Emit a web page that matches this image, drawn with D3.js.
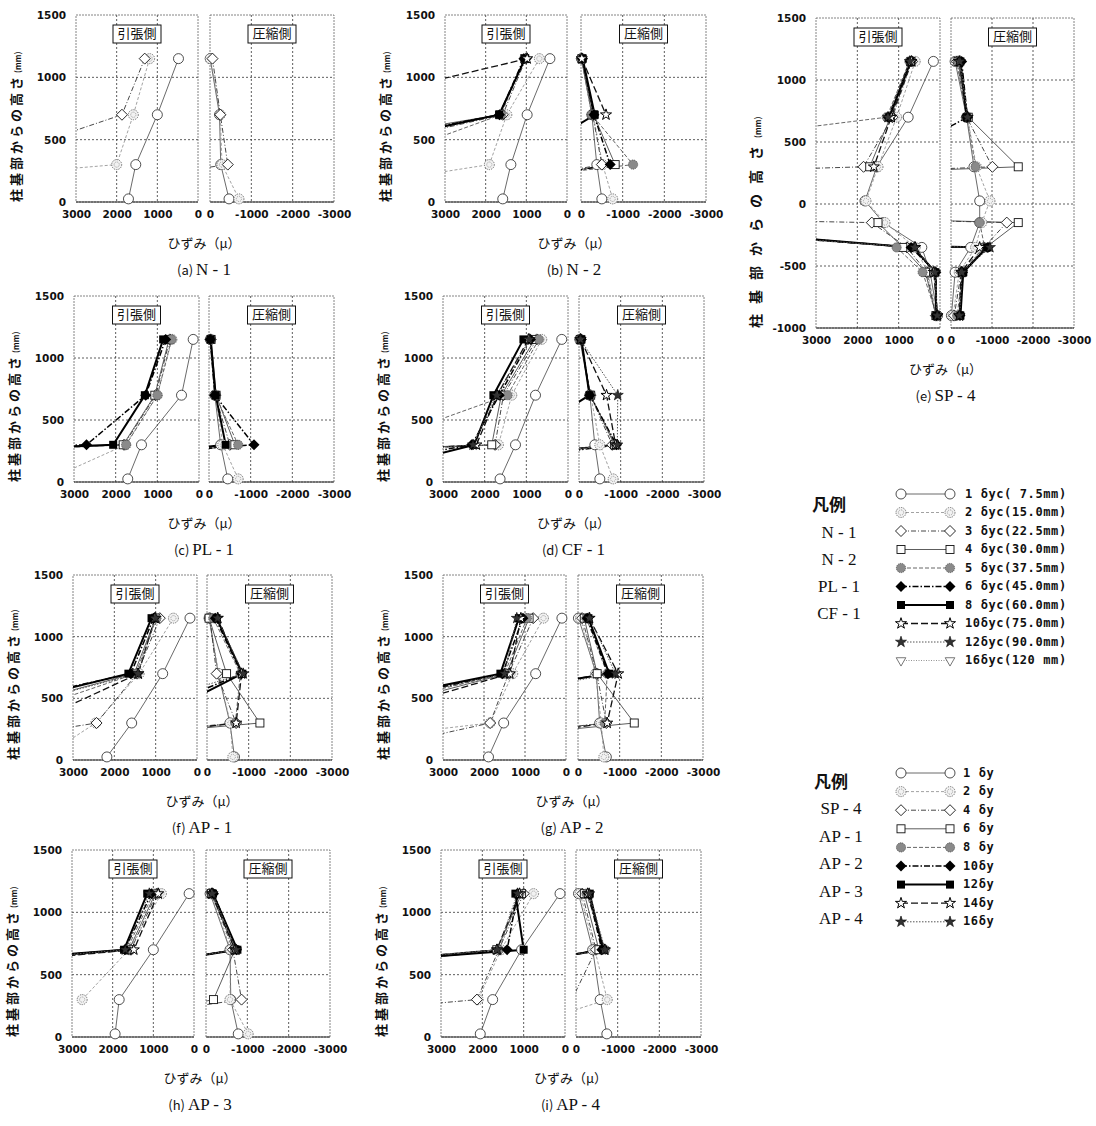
<!DOCTYPE html>
<html>
<head>
<meta charset="utf-8">
<script src="https://cdn.jsdelivr.net/npm/d3@7"></script>
<style>
  body { margin: 0; background: #fff; }
  text { fill: #111; }
</style>
</head>
<body>
<svg id="fig" width="1096" height="1126"></svg>
<script>
// gauge heights from column base (mm)
const hStd = [1150, 700, 300, 25];
const hSP = [1150, 700, 300, 25, -150, -350, -550, -900];

// strain (μ); row = load step (legend order), column = gauge height
// null = no reading, very large values = gauge went off the plotted range
const tenA = [
  [480, 1000, 1530, 1710],
  [1190, 1590, 2000, 12000],
  [1310, 1870, 5500, null]
];
const cmpA = [
  [-5, -230, -260, -460],
  [-10, -250, -290, -700],
  [-60, -250, -430, 5500]
];

const tenB = [
  [420, 980, 1380, 1580],
  [680, 1480, 1910, 7300],
  [1010, 1580, 7000, null],
  [1040, 1650, 9000, null],
  [1050, 1620, 5000, null],
  [1060, 1660, 8000, null],
  [1030, 1670, 7500, null],
  [980, 6800, null, null]
];
const cmpB = [
  [-10, -260, -380, -500],
  [-20, -290, -520, -760],
  [-20, -280, -500, 4000],
  [-20, -300, -820, 5000],
  [-10, -260, -1250, 6000],
  [-30, -310, -700, 4000],
  [-40, -330, 1640, null],
  [-20, -600, null, null]
];

const tenC = [
  [140, 420, 1380, 1710],
  [650, 1000, 1760, 3580],
  [700, 1040, 1800, 24000],
  [720, 1060, 1820, 20000],
  [660, 1000, 1750, 20000],
  [800, 1280, 2700, 30000],
  [860, 1300, 2060, 25000]
];
const cmpC = [
  [-30, -140, -280, -450],
  [-40, -160, -330, -700],
  [-40, -150, -500, 8000],
  [-50, -170, -620, 5000],
  [-40, -150, -700, 6000],
  [-30, -140, -1080, 10000],
  [-40, -160, -400, 8000]
];

const tenD = [
  [150, 780, 1260, 1630],
  [630, 1350, 1670, 20000],
  [750, 1550, 1750, 20000],
  [800, 1600, 1830, 25000],
  [700, 1450, 4770, null],
  [900, 1650, 2310, 7000],
  [1070, 1790, 2250, 5500],
  [950, 1700, 2200, 15000],
  [920, 1720, 2280, 14000]
];
const cmpD = [
  [-20, -260, -380, -500],
  [-30, -280, -500, -820],
  [-40, -270, -800, 8000],
  [-30, -280, -850, 8000],
  [-40, -270, -880, 6000],
  [-50, -260, -900, 5000],
  [-60, -250, 1640, null],
  [-40, -660, -880, 7000],
  [-30, -930, -920, 6000]
];

const tenE = [
  [160, 770, 1530, 1815, 1370, 440, 240, 60],
  [600, 1050, 1500, 1790, 1330, 600, 300, 80],
  [680, 1150, 1850, 30000, 1650, 800, 320, 100],
  [700, 1200, 1700, null, 1500, 900, 350, 100],
  [740, 1290, 10900, null, null, 1050, 420, 80],
  [720, 1250, null, null, 8000, 700, 100, 80],
  [710, 1230, null, null, 8000, 650, 110, 90],
  [690, 1180, 1600, null, 9000, 600, 150, 60],
  [730, 1260, null, null, 9000, 620, 120, 70]
];
const cmpE = [
  [-100, -380, -560, -700, -700, -480, -100, -10],
  [-130, -400, -620, -950, -750, -600, -200, -50],
  [-150, -380, -1010, 20000, -1360, -800, -250, -80],
  [-170, -420, -1640, 20000, -1640, -850, -280, -200],
  [-180, -390, -600, null, -700, -820, -280, -150],
  [-260, -400, 1850, null, 30000, -900, -280, -220],
  [-230, -380, null, null, 30000, -880, -300, -230],
  [-200, -400, null, null, 30000, -700, -250, -200],
  [-220, -410, null, null, 30000, -950, -270, -210]
];

const tenF = [
  [170, 830, 1580, 2180],
  [570, 1400, 2450, 3700],
  [900, 1450, 2430, 7650],
  [1000, 1520, 6000, null],
  [980, 1480, 5000, null],
  [1050, 1600, 7000, null],
  [1100, 1660, 6500, null],
  [1020, 1420, 4000, null],
  [1000, 1430, 6000, null]
];
const cmpF = [
  [-50, -270, -550, -660],
  [-60, -280, -560, -620],
  [-70, -230, -700, 8000],
  [-50, -470, -1270, 8000],
  [-150, -800, -680, 6000],
  [-200, -830, 2000, null],
  [-230, -850, 1500, null],
  [-260, -830, -700, 6000],
  [-250, -870, 3000, null]
];

const tenG = [
  [100, 740, 1520, 1890],
  [550, 1300, 1850, 9000],
  [800, 1400, 1850, 5600],
  [900, 1450, 6000, null],
  [950, 1500, 6500, null],
  [1050, 1550, 7000, null],
  [1150, 1600, 7500, null],
  [1100, 1370, 5500, null],
  [1200, 1500, 6800, null]
];
const cmpG = [
  [-10, -440, -520, -680],
  [-60, -420, -560, -620],
  [-100, -450, -680, 7000],
  [-150, -460, -1350, 7000],
  [-200, -700, -640, 6000],
  [-220, -720, 6800, null],
  [-250, -750, 7000, null],
  [-270, -965, -700, 5000],
  [-280, -900, 6000, null]
];

const tenH = [
  [120, 1000, 1840, 1940],
  [800, 1600, 2750, null],
  [920, 1550, 15000, null],
  [950, 1600, 16000, null],
  [1000, 1650, 14000, null],
  [1050, 1700, 17000, null],
  [1150, 1720, 18000, null],
  [880, 1480, 15000, null],
  [1100, 1690, 16000, null]
];
const cmpH = [
  [-100, -580, -600, -780],
  [-120, -600, -580, -1020],
  [-150, -650, -860, 5000],
  [-130, -700, -180, 4000],
  [-160, -720, 6000, null],
  [-180, -740, 7000, null],
  [-170, -760, 7000, null],
  [-140, -700, 6500, null],
  [-160, -730, 6800, null]
];

const tenI = [
  [120, 1050, 1750, 2050],
  [760, 1550, 2100, null],
  [1000, 1600, 2130, 11300],
  [1050, 1650, 16000, null],
  [1100, 1600, 15000, null],
  [1150, 1400, 14000, null],
  [1200, 1000, 16700, null],
  [1100, 1650, 15000, null],
  [1150, 1630, 15500, null]
];
const cmpI = [
  [-60, -400, -580, -740],
  [-100, -450, -750, 1830],
  [-150, -480, 100, null],
  [-200, -550, 6000, null],
  [-250, -700, 7000, null],
  [-300, -620, 6500, null],
  [-330, -650, 6800, null],
  [-280, -680, 6500, null],
  [-320, -700, 7000, null]
];

const yTicksStd = [0, 500, 1000, 1500];
const yTicksSP = [-1000, -500, 0, 500, 1000, 1500];
const tenTicks = [3000, 2000, 1000, 0];
const cmpTicks = [0, -1000, -2000, -3000];

const legend1Names = ["N - 1", "N - 2", "PL - 1", "CF - 1"];
const legend1Labels = ["1 δyc( 7.5mm)", "2 δyc(15.0mm)", "3 δyc(22.5mm)", "4 δyc(30.0mm)", "5 δyc(37.5mm)",
  "6 δyc(45.0mm)", "8 δyc(60.0mm)", "10δyc(75.0mm)", "12δyc(90.0mm)", "16δyc(120 mm)"];
const legend2Names = ["SP - 4", "AP - 1", "AP - 2", "AP - 3", "AP - 4"];
const legend2Labels = ["1 δy", "2 δy", "4 δy", "6 δy", "8 δy", "10δy", "12δy", "14δy", "16δy"];

// marker + line style per load step
const styles = [
  { m: "circle",   line: "#444", w: 0.8, dash: null },
  { m: "dcircle",  line: "#8a8a8a", w: 0.8, dash: "3,2" },
  { m: "diamond",  line: "#333", w: 0.9, dash: "5,2,1,2" },
  { m: "square",   line: "#333", w: 0.8, dash: null },
  { m: "gcircle",  line: "#666", w: 1, dash: "4,2" },
  { m: "bdiamond", line: "#000", w: 1.5, dash: "6,2,1.5,2" },
  { m: "bsquare",  line: "#000", w: 2, dash: null },
  { m: "ostar",    line: "#111", w: 1.3, dash: "7,3" },
  { m: "bstar",    line: "#555", w: 1, dash: "1.5,1.5" },
  { m: "tri",      line: "#777", w: 0.8, dash: "1,1.5" }
];

const panels = [
  { label: "(a)", name: "N - 1", ten: tenA, cmp: cmpA, h: hStd, tl: 76, tr: 198, cl: 210, cr: 334, top: 15, bot: 202 },
  { label: "(b)", name: "N - 2", ten: tenB, cmp: cmpB, h: hStd, tl: 445, tr: 567, cl: 581, cr: 706, top: 15, bot: 202 },
  { label: "(c)", name: "PL - 1", ten: tenC, cmp: cmpC, h: hStd, tl: 74, tr: 199, cl: 209, cr: 334, top: 296, bot: 482 },
  { label: "(d)", name: "CF - 1", ten: tenD, cmp: cmpD, h: hStd, tl: 443, tr: 568, cl: 579, cr: 704, top: 296, bot: 482 },
  { label: "(e)", name: "SP - 4", ten: tenE, cmp: cmpE, h: hSP, tl: 816, tr: 940, cl: 951, cr: 1074, top: 18, bot: 328 },
  { label: "(f)", name: "AP - 1", ten: tenF, cmp: cmpF, h: hStd, tl: 73, tr: 197, cl: 207, cr: 332, top: 575, bot: 760 },
  { label: "(g)", name: "AP - 2", ten: tenG, cmp: cmpG, h: hStd, tl: 443, tr: 566, cl: 578, cr: 703, top: 575, bot: 760 },
  { label: "(h)", name: "AP - 3", ten: tenH, cmp: cmpH, h: hStd, tl: 72, tr: 194, cl: 206, cr: 330, top: 850, bot: 1037 },
  { label: "(i)", name: "AP - 4", ten: tenI, cmp: cmpI, h: hStd, tl: 441, tr: 565, cl: 576, cr: 701, top: 850, bot: 1037 }
];

const svg = d3.select("#fig");
const numFont = "'DejaVu Sans', sans-serif";
const jpFont = "'Noto Sans CJK JP', sans-serif";
const serifFont = "'Liberation Serif', 'DejaVu Serif', serif";

const diamondPath = r => `M0,${-r}L${r},0L0,${r}L${-r},0Z`;

function drawMarker(g, s, x, y) {
  const t = `translate(${x},${y})`;
  switch (s.m) {
    case "circle":
      g.append("circle").attr("transform", t).attr("r", 5)
        .attr("fill", "#fff").attr("stroke", "#222").attr("stroke-width", 0.8);
      break;
    case "dcircle":
      g.append("circle").attr("transform", t).attr("r", 5)
        .attr("fill", "#f2f2f2").attr("stroke", "#666").attr("stroke-width", 0.9).attr("stroke-dasharray", "1.3,1");
      g.append("circle").attr("transform", t).attr("r", 2.6)
        .attr("fill", "none").attr("stroke", "#888").attr("stroke-width", 0.8).attr("stroke-dasharray", "1,1");
      break;
    case "diamond":
      g.append("path").attr("transform", t).attr("d", diamondPath(5.5))
        .attr("fill", "#fff").attr("stroke", "#111").attr("stroke-width", 0.9);
      break;
    case "square":
      g.append("rect").attr("transform", t).attr("x", -4).attr("y", -4).attr("width", 8).attr("height", 8)
        .attr("fill", "#fff").attr("stroke", "#111").attr("stroke-width", 0.9);
      break;
    case "gcircle":
      g.append("circle").attr("transform", t).attr("r", 4.6)
        .attr("fill", "#8a8a8a").attr("stroke", "#4a4a4a").attr("stroke-width", 0.8).attr("stroke-dasharray", "1.2,0.8");
      break;
    case "bdiamond":
      g.append("path").attr("transform", t).attr("d", diamondPath(5.5)).attr("fill", "#000");
      break;
    case "bsquare":
      g.append("rect").attr("transform", t).attr("x", -4).attr("y", -4).attr("width", 8).attr("height", 8).attr("fill", "#000");
      break;
    case "ostar":
      g.append("path").attr("transform", t).attr("d", d3.symbol(d3.symbolStar, 38)())
        .attr("fill", "#fff").attr("stroke", "#000").attr("stroke-width", 1);
      break;
    case "bstar":
      g.append("path").attr("transform", t).attr("d", d3.symbol(d3.symbolStar, 38)())
        .attr("fill", "#333").attr("stroke", "#000").attr("stroke-width", 0.6);
      break;
    case "tri":
      g.append("path").attr("transform", t + " rotate(180)").attr("d", d3.symbol(d3.symbolTriangle, 40)())
        .attr("fill", "#fff").attr("stroke", "#555").attr("stroke-width", 0.8);
      break;
  }
}

let clipId = 0;

function drawSide(g, p, x, y, data, ticks, grid, yTicks, boxText) {
  const [x0, x1] = x.range();
  const [yb, yt] = y.range();

  // gridlines
  g.append("g").selectAll("line").data(grid).enter().append("line")
    .attr("x1", d => x(d)).attr("x2", d => x(d)).attr("y1", yt).attr("y2", yb)
    .attr("stroke", "#333").attr("stroke-width", 0.8).attr("stroke-dasharray", "2,2");
  g.append("g").selectAll("line").data(yTicks.slice(1, -1)).enter().append("line")
    .attr("x1", x0).attr("x2", x1).attr("y1", d => y(d)).attr("y2", d => y(d))
    .attr("stroke", "#333").attr("stroke-width", 0.8).attr("stroke-dasharray", "2,2");

  // frame: dotted grey top/sides, solid bottom
  g.append("rect").attr("x", x0).attr("y", yt).attr("width", x1 - x0).attr("height", yb - yt)
    .attr("fill", "none").attr("stroke", "#666").attr("stroke-width", 0.8).attr("stroke-dasharray", "2,1");
  g.append("line").attr("x1", x0).attr("x2", x1).attr("y1", yb).attr("y2", yb)
    .attr("stroke", "#222").attr("stroke-width", 1);

  // x axis labels
  const ax = g.append("g").attr("transform", `translate(0,${yb})`)
    .call(d3.axisBottom(x).tickValues(ticks).tickSize(0).tickPadding(9).tickFormat(d => String(d)));
  ax.select(".domain").remove();
  ax.selectAll("text").attr("font-family", numFont).attr("font-weight", "bold").attr("font-size", 10.5).attr("fill", "#111");

  // box label
  const cx = (x0 + x1) / 2;
  g.append("rect").attr("x", cx - 24).attr("y", yt + 10).attr("width", 48).attr("height", 18)
    .attr("fill", "#fff").attr("stroke", "#111").attr("stroke-width", 1);
  g.append("text").attr("x", cx).attr("y", yt + 19.5).attr("text-anchor", "middle").attr("dominant-baseline", "middle")
    .attr("font-family", jpFont).attr("font-size", 13).text(boxText);

  // series
  const id = "clip" + (clipId++);
  g.append("clipPath").attr("id", id).append("rect")
    .attr("x", x0).attr("y", yt).attr("width", x1 - x0).attr("height", yb - yt);

  const dom = x.domain();
  const lo = Math.min(dom[0], dom[1]) - 60, hi = Math.max(dom[0], dom[1]) + 60;
  const line = d3.line().defined(d => d.v != null).x(d => x(d.v)).y(d => y(d.h));

  const series = data.map((row, i) => ({ s: styles[i], pts: row.map((v, j) => ({ v, h: p.h[j] })) }));

  const lg = g.append("g").attr("clip-path", `url(#${id})`).attr("fill", "none");
  series.forEach(sr => {
    lg.append("path").attr("d", line(sr.pts))
      .attr("stroke", sr.s.line).attr("stroke-width", sr.s.w)
      .attr("stroke-dasharray", sr.s.dash);
  });

  const mg = g.append("g");
  series.forEach(sr => {
    sr.pts.filter(d => d.v != null && d.v >= lo && d.v <= hi)
      .forEach(d => drawMarker(mg, sr.s, x(d.v), y(d.h)));
  });
}

function drawPanel(p) {
  const sp = p.h === hSP;
  const yTicks = sp ? yTicksSP : yTicksStd;
  const y = d3.scaleLinear().domain(d3.extent(yTicks)).range([p.bot, p.top]);
  const xt = d3.scaleLinear().domain([3000, 0]).range([p.tl, p.tr]);
  const xc = d3.scaleLinear().domain([0, -3000]).range([p.cl, p.cr]);
  const g = svg.append("g");

  drawSide(g, p, xt, y, p.ten, tenTicks, [2000, 1000], yTicks, "引張側");
  drawSide(g, p, xc, y, p.cmp, cmpTicks, [-1000, -2000], yTicks, "圧縮側");

  // y axis labels
  const ay = g.append("g").attr("transform", `translate(${p.tl},0)`)
    .call(d3.axisLeft(y).tickValues(yTicks).tickSize(0).tickPadding(10).tickFormat(d => String(d)));
  ay.select(".domain").remove();
  ay.selectAll("text").attr("font-family", numFont).attr("font-weight", "bold").attr("font-size", 10.5).attr("fill", "#111");

  // y title (rotated)
  const yl = g.append("text")
    .attr("transform", `translate(${p.tl - 55},${p.bot}) rotate(-90)`)
    .attr("font-family", jpFont).attr("font-weight", "bold")
    .attr("font-size", sp ? 14 : 13).attr("letter-spacing", sp ? 10 : 3);
  yl.append("tspan").text("柱基部からの高さ");
  yl.append("tspan").attr("font-size", 8).attr("letter-spacing", 0).attr("dx", sp ? -2 : 1).text("(mm)");

  const mid = (p.tr + p.cl) / 2;
  g.append("text").attr("x", mid).attr("y", p.bot + 42).attr("text-anchor", "middle").attr("dominant-baseline", "middle")
    .attr("font-family", jpFont).attr("font-size", 13).text("ひずみ（μ）");

  const tt = g.append("text").attr("x", mid).attr("y", p.bot + 69).attr("text-anchor", "middle")
    .attr("dominant-baseline", "middle");
  tt.append("tspan").attr("font-family", jpFont).attr("font-size", 13).text(p.label + " ");
  tt.append("tspan").attr("font-family", serifFont).attr("font-size", 17).text(p.name);
}

panels.forEach(drawPanel);

function drawLegend(names, labels, o) {
  const g = svg.append("g");
  g.append("text").attr("x", o.nameX).attr("y", o.titleY).attr("text-anchor", "middle").attr("dominant-baseline", "middle")
    .attr("font-family", jpFont).attr("font-weight", "bold").attr("font-size", 17).text("凡例");
  g.selectAll("text.nm").data(names).enter().append("text").attr("class", "nm")
    .attr("x", o.nameX + 10).attr("y", (d, i) => o.nameY + i * o.nameStep)
    .attr("text-anchor", "middle").attr("dominant-baseline", "middle")
    .attr("font-family", serifFont).attr("font-size", 17).text(d => d);

  labels.forEach((lab, i) => {
    const s = styles[i];
    const yy = o.rowY + i * o.rowStep;
    g.append("line").attr("x1", o.lx0).attr("x2", o.lx1).attr("y1", yy).attr("y2", yy)
      .attr("stroke", s.line).attr("stroke-width", s.w).attr("stroke-dasharray", s.dash);
    drawMarker(g, s, o.lx0, yy);
    drawMarker(g, s, o.lx1, yy);
    g.append("text").attr("x", o.tx).attr("y", yy).attr("dominant-baseline", "middle")
      .attr("font-family", "'DejaVu Sans Mono', monospace").attr("font-weight", "bold")
      .attr("font-size", 12).attr("letter-spacing", 0.6)
      .style("white-space", "pre").text(lab);
  });
}

drawLegend(legend1Names, legend1Labels,
  { nameX: 829, titleY: 506, nameY: 534, nameStep: 27, rowY: 494, rowStep: 18.5, lx0: 901, lx1: 950, tx: 965 });
drawLegend(legend2Names, legend2Labels,
  { nameX: 831, titleY: 783, nameY: 810, nameStep: 27.6, rowY: 773, rowStep: 18.6, lx0: 901, lx1: 950, tx: 963 });
</script>
</body>
</html>
